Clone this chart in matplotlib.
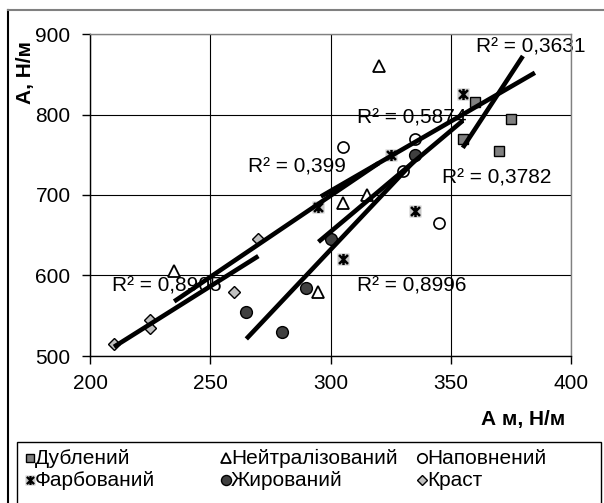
import numpy as np
import matplotlib
matplotlib.use("Agg")
import matplotlib.pyplot as plt
from matplotlib.path import Path
from matplotlib.lines import Line2D
from matplotlib.patches import Rectangle

plt.rcParams['font.family'] = ['Liberation Sans', 'DejaVu Sans']

# ---- data: A м (x) vs A (y), Н/м ----
dub_x = [360, 375, 355, 370]
dub_y = [815, 795, 770, 755]
neut_x = [320, 235, 305, 315, 295]
neut_y = [860, 605, 690, 700, 580]
napov_x = [305, 335, 330, 345]
napov_y = [760, 770, 730, 665]
farb_x = [355, 325, 295, 335, 305]
farb_y = [825, 750, 685, 680, 620]
zhyr_x = [265, 280, 290, 300, 335]
zhyr_y = [555, 530, 585, 645, 750]
krast_x = [210, 225, 225, 260, 270]
krast_y = [515, 545, 535, 580, 645]

# trend lines given as coefficients (slope, intercept), x span and R²
dub_trend = [4.562, -860.9]
dub_span = [355, 380]
dub_r2 = 0.3631
napov_trend = [1.728, 186.6]
napov_span = [296, 385]
napov_r2 = 0.3782

W, H = 604, 503
fig = plt.figure(figsize=(W / 100, H / 100), dpi=100)


def fx(px):
    return px / W


def fy(py):
    return 1 - py / H


ax = fig.add_axes([fx(90), fy(356), (571 - 90) / W, (356 - 34) / H])
ax.set_xlim(200, 400)
ax.set_ylim(500, 900)
ax.set_xticks([200, 250, 300, 350, 400])
ax.set_yticks([500, 600, 700, 800, 900])
ax.grid(True, color='black', linewidth=0.8, zorder=0)
ax.set_axisbelow(True)
for s in ['top', 'right']:
    ax.spines[s].set_color('#808080')
    ax.spines[s].set_linewidth(1.0)
for s in ['left', 'bottom']:
    ax.spines[s].set_color('black')
    ax.spines[s].set_linewidth(1.0)
ax.tick_params(axis='both', direction='out', length=6, width=1, labelsize=15, color='black')
ax.tick_params(axis='y', pad=8)
ax.tick_params(axis='x', pad=7)

# asterisk marker: vertical bar plus an X
star = Path([(0, -1), (0, 1), (-0.8, -0.8), (0.8, 0.8), (-0.8, 0.8), (0.8, -0.8)],
            [Path.MOVETO, Path.LINETO, Path.MOVETO, Path.LINETO, Path.MOVETO, Path.LINETO])

styles = {
    'dub': dict(marker='s', ms=7.5, mfc='#808080', mec='black', mew=1.0),
    'neut': dict(marker='^', ms=8, mfc='white', mec='black', mew=1.3),
    'napov': dict(marker='o', ms=8, mfc='white', mec='black', mew=1.2),
    'zhyr': dict(marker='o', ms=8.5, mfc='#404040', mec='black', mew=1.0),
    'krast': dict(marker='D', ms=6.5, mfc='#C0C0C0', mec='black', mew=1.0),
}

ax.plot(dub_x, dub_y, ls='none', zorder=3, **styles['dub'])
ax.plot(neut_x, neut_y, ls='none', zorder=3, **styles['neut'])
ax.plot(napov_x, napov_y, ls='none', zorder=3, **styles['napov'])
ax.plot(farb_x, farb_y, ls='none', marker='s', ms=8.5, mfc='#C8C8C8', mec='none', zorder=3)
ax.plot(farb_x, farb_y, ls='none', marker=star, ms=8, mfc='none', mec='black', mew=1.8, zorder=3)
ax.plot(zhyr_x, zhyr_y, ls='none', zorder=3, **styles['zhyr'])
ax.plot(krast_x, krast_y, ls='none', zorder=3, **styles['krast'])


def r2_text(r2):
    return "R² = " + f"{r2:.4f}".rstrip('0').replace('.', ',')


def fit_line(x, y):
    x = np.asarray(x, float)
    y = np.asarray(y, float)
    k, b = np.polyfit(x, y, 1)
    r2 = np.corrcoef(x, y)[0, 1] ** 2
    return (k, b), [x.min(), x.max()], r2


trends = {
    'dub': (dub_trend, dub_span, dub_r2),
    'napov': (napov_trend, napov_span, napov_r2),
    'neut': fit_line(neut_x, neut_y),
    'farb': fit_line(farb_x, farb_y),
    'zhyr': fit_line(zhyr_x, zhyr_y),
    'krast': fit_line(krast_x, krast_y),
}

label_pos = {
    'dub': (360.4, 884),
    'napov': (346.3, 721),
    'neut': (265.7, 735.4),
    'farb': (311.2, 795.8),
    'zhyr': (310.9, 586.5),
    'krast': (209.0, 586.5),
}

for key, ((k, b), span, r2) in trends.items():
    xs = np.array(span, float)
    ax.plot(xs, k * xs + b, color='black', lw=3.3, solid_capstyle='butt', zorder=4)
    lx, ly = label_pos[key]
    ax.text(lx, ly, r2_text(r2), fontsize=15, ha='left', va='center', zorder=2)

# axis titles
fig.text(fx(26), fy(72), "А, Н/м", rotation=90, fontsize=15, fontweight='bold',
         ha='center', va='center')
fig.text(fx(565), fy(420), "А м, Н/м", fontsize=15, fontweight='bold',
         ha='right', va='center')

# outer chart frame
fig.add_artist(Line2D([fx(8), fx(8)], [fy(10), fy(503)], transform=fig.transFigure,
                      color='black', lw=1.5))
fig.add_artist(Line2D([fx(8), fx(604)], [fy(10), fy(10)], transform=fig.transFigure,
                      color='#808080', lw=1.5))

# legend box
fig.add_artist(Rectangle((fx(17), fy(520)), fx(601) - fx(17), fy(442) - fy(520),
                         transform=fig.transFigure, fill=False, ec='black', lw=1.0))

leg_entries = [
    ("Дублений", styles['dub'], 30, 458),
    ("Нейтралізований", styles['neut'], 226, 458),
    ("Наповнений", styles['napov'], 422, 458),
    ("Фарбований", None, 30, 480),
    ("Жирований", styles['zhyr'], 226, 480),
    ("Краст", styles['krast'], 422, 480),
]
for name, st, mx, my in leg_entries:
    if st is None:
        fig.add_artist(Line2D([fx(mx)], [fy(my)], transform=fig.transFigure, ls='none',
                              marker='s', ms=7, mfc='#C8C8C8', mec='none'))
        fig.add_artist(Line2D([fx(mx)], [fy(my)], transform=fig.transFigure, ls='none',
                              marker=star, ms=6.5, mfc='none', mec='black', mew=1.6))
    else:
        s = dict(st)
        s['ms'] = s['ms'] * 0.85
        fig.add_artist(Line2D([fx(mx)], [fy(my)], transform=fig.transFigure, ls='none', **s))
    fig.text(fx(mx + 5), fy(my), name, fontsize=15, ha='left', va='center')

fig.savefig("out.png", dpi=100)
